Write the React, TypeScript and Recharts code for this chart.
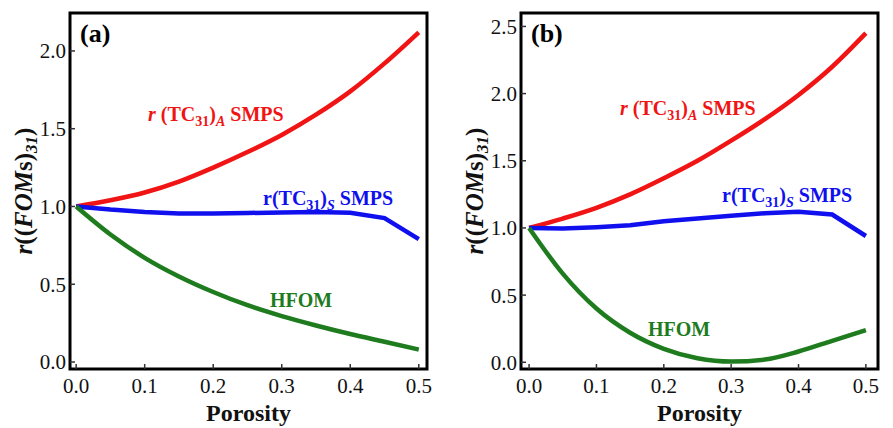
import { Line, LineChart, ReferenceArea, XAxis, YAxis } from "recharts";

const porosity = [0, 0.05, 0.1, 0.15, 0.2, 0.25, 0.3, 0.35, 0.4, 0.45, 0.5];

// panel (a)
const tcA_a = [1.0, 1.04, 1.09, 1.16, 1.25, 1.35, 1.46, 1.59, 1.74, 1.92, 2.12];
const tcS_a = [1.0, 0.98, 0.965, 0.955, 0.955, 0.958, 0.962, 0.965, 0.96, 0.925, 0.79];
const hfom_a = [1.0, 0.82, 0.67, 0.55, 0.45, 0.365, 0.295, 0.235, 0.18, 0.13, 0.08];

// panel (b)
const tcA_b = [1.0, 1.07, 1.15, 1.25, 1.37, 1.5, 1.65, 1.81, 1.99, 2.2, 2.45];
const tcS_b = [1.0, 0.995, 1.005, 1.02, 1.05, 1.07, 1.09, 1.11, 1.12, 1.1, 0.94];
const hfom_b = [1.0, 0.66, 0.4, 0.22, 0.1, 0.03, 0.005, 0.02, 0.08, 0.16, 0.24];

const xTicks = [0, 0.1, 0.2, 0.3, 0.4, 0.5];
const yTicksA = [0, 0.5, 1, 1.5, 2];
const yTicksB = [0, 0.5, 1, 1.5, 2, 2.5];

const RED = "#f01414";
const BLUE = "#1010ee";
const GREEN = "#1e7c1e";
const SERIF = "Liberation Serif";

function rows(a: number[], s: number[], h: number[]) {
  return porosity.map((p, i) => ({ p, a: a[i], s: s[i], h: h[i] }));
}

type Pos = { x: number; y: number };

type PanelProps = {
  tag: string;
  width: number;
  left: number;
  right: number;
  xDomain: [number, number];
  yDomain: [number, number];
  yTicks: number[];
  data: ReturnType<typeof rows>;
  redPos: Pos;
  bluePos: Pos;
  greenPos: Pos;
  yTitleX: number;
};

const SUB = 14;
const serifStyle = { fontFamily: SERIF };
const tickMark = { stroke: "#333", strokeWidth: 1.5 };

function Panel(props: PanelProps) {
  const { width, left, right, xDomain, yDomain } = props;
  const plotL = left;
  const plotR = width - right;
  const midX = (plotL + plotR) / 2;
  const tickStyle = { fontSize: 21, fill: "#111", fontFamily: SERIF, style: serifStyle };
  return (
    <LineChart
      width={width}
      height={428}
      data={props.data}
      margin={{ top: 0, right: 0, bottom: 29, left: 0 }}
    >
      <XAxis
        dataKey="p"
        type="number"
        domain={xDomain}
        ticks={xTicks}
        allowDataOverflow
        tickFormatter={(v: number) => v.toFixed(1)}
        tick={tickStyle}
        tickLine={tickMark}
        axisLine={false}
        tickSize={-5}
        tickMargin={14}
        height={30}
      />
      <XAxis
        xAxisId="top"
        orientation="top"
        dataKey="p"
        type="number"
        domain={xDomain}
        ticks={xTicks}
        allowDataOverflow
        tick={false}
        tickLine={tickMark}
        axisLine={false}
        tickSize={-5}
        height={13}
      />
      <YAxis
        type="number"
        domain={yDomain}
        ticks={props.yTicks}
        allowDataOverflow
        tickFormatter={(v: number) => v.toFixed(1)}
        tick={tickStyle}
        tickLine={tickMark}
        axisLine={false}
        tickSize={-5}
        tickMargin={9}
        width={left}
      />
      <YAxis
        yAxisId="right"
        orientation="right"
        type="number"
        domain={yDomain}
        ticks={props.yTicks}
        allowDataOverflow
        tick={false}
        tickLine={tickMark}
        axisLine={false}
        tickSize={-5}
        width={right}
      />
      <Line type="monotone" dataKey="a" stroke={RED} strokeWidth={4.5} dot={false} isAnimationActive={false} />
      <Line type="linear" dataKey="s" stroke={BLUE} strokeWidth={4.5} dot={false} isAnimationActive={false} />
      <Line type="monotone" dataKey="h" stroke={GREEN} strokeWidth={4.5} dot={false} isAnimationActive={false} />
      <ReferenceArea
        x1={xDomain[0]}
        x2={xDomain[1]}
        y1={yDomain[0]}
        y2={yDomain[1]}
        fill="none"
        stroke="#000"
        strokeWidth={3}
        ifOverflow="visible"
      />
      <text x={plotL + 10} y={42} style={serifStyle} fontWeight="bold" fontSize={26} fill="#000">
        {props.tag}
      </text>
      <text x={props.redPos.x} y={props.redPos.y} style={serifStyle} fontWeight="bold" fontSize={20} fill={RED}>
        <tspan fontStyle="italic">r</tspan>
        <tspan>{" (TC"}</tspan>
        <tspan fontSize={SUB} dy={5}>31</tspan>
        <tspan dy={-5}>)</tspan>
        <tspan fontSize={SUB} fontStyle="italic" dy={5}>A</tspan>
        <tspan dy={-5}>{" SMPS"}</tspan>
      </text>
      <text x={props.bluePos.x} y={props.bluePos.y} style={serifStyle} fontWeight="bold" fontSize={20} fill={BLUE}>
        <tspan>r(TC</tspan>
        <tspan fontSize={SUB} dy={5}>31</tspan>
        <tspan dy={-5}>)</tspan>
        <tspan fontSize={SUB} fontStyle="italic" dy={5}>S</tspan>
        <tspan dy={-5}>{" SMPS"}</tspan>
      </text>
      <text x={props.greenPos.x} y={props.greenPos.y} style={serifStyle} fontWeight="bold" fontSize={20} fill={GREEN}>
        HFOM
      </text>
      <text
        x={midX}
        y={421}
        textAnchor="middle"
        style={serifStyle}
        fontWeight="bold"
        fontSize={24}
        fill="#111"
      >
        Porosity
      </text>
      <text
        transform={`translate(${props.yTitleX},191) rotate(-90)`}
        textAnchor="middle"
        style={serifStyle}
        fontWeight="bold"
        fontSize={25}
        fill="#111"
      >
        <tspan fontStyle="italic">r</tspan>
        <tspan>((</tspan>
        <tspan fontStyle="italic">FOM</tspan>
        <tspan>s)</tspan>
        <tspan fontSize={17} fontStyle="italic" dy={5}>31</tspan>
        <tspan dy={-5}>)</tspan>
      </text>
    </LineChart>
  );
}

export default function App() {
  return (
    <div
      style={{
        position: "absolute",
        left: 0,
        top: 0,
        width: 893,
        height: 428,
        display: "flex",
        background: "#fff",
        fontFamily: SERIF,
      }}
    >
      <Panel
        tag="(a)"
        width={446}
        left={70}
        right={19}
        xDomain={[-0.009, 0.512]}
        yDomain={[-0.045, 2.244]}
        yTicks={yTicksA}
        data={rows(tcA_a, tcS_a, hfom_a)}
        redPos={{ x: 148, y: 121 }}
        bluePos={{ x: 263, y: 205 }}
        greenPos={{ x: 270, y: 307 }}
        yTitleX={32}
      />
      <Panel
        tag="(b)"
        width={447}
        left={75}
        right={15}
        xDomain={[-0.012, 0.518]}
        yDomain={[-0.05, 2.6]}
        yTicks={yTicksB}
        data={rows(tcA_b, tcS_b, hfom_b)}
        redPos={{ x: 620 - 446, y: 115 }}
        bluePos={{ x: 722 - 446, y: 202 }}
        greenPos={{ x: 648 - 446, y: 336 }}
        yTitleX={37}
      />
    </div>
  );
}
